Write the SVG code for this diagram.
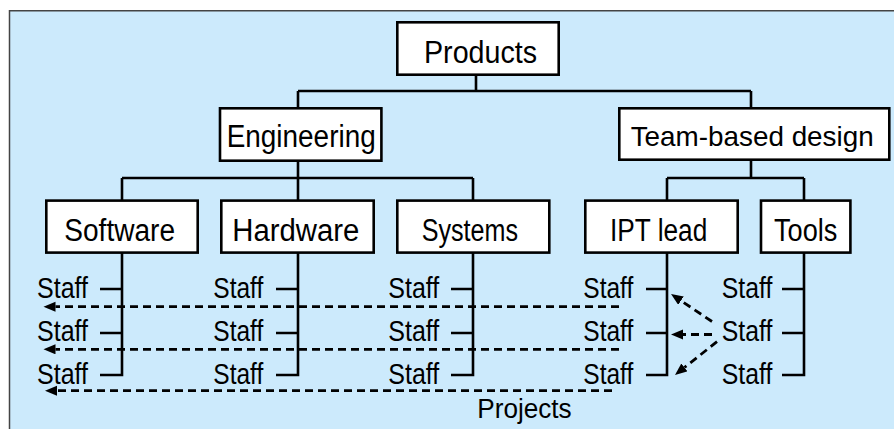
<svg xmlns="http://www.w3.org/2000/svg" width="894" height="429" viewBox="0 0 894 429">
<style>
.box{fill:#fff;stroke:#000;stroke-width:2.6}
.lbl{font-family:"Liberation Sans",Arial,sans-serif;font-size:31px;fill:#000}
.st{font-family:"Liberation Sans",Arial,sans-serif;font-size:29px;fill:#000}
.ln{fill:none;stroke:#000;stroke-width:2.6}
.da{fill:none;stroke:#000;stroke-width:2.8;stroke-dasharray:8 5}
</style>
<defs>
<marker id="ah" markerUnits="userSpaceOnUse" markerWidth="13" markerHeight="11" refX="0" refY="5" orient="auto">
<path d="M0,0 L12,5 L0,10 z" fill="#000"/>
</marker>
</defs>
<rect x="9.5" y="10.75" width="900" height="430" fill="#cceafc" stroke="#444" stroke-width="1.5"/>
<g id="connectors">
<path class="ln" d="M476,76 V91 M298,91 H751 M298,91 V108 M751,91 V108"/>
<path class="ln" d="M298,162 V178 M122,178 H473 M122,178 V200 M298,178 V200 M473,178 V200"/>
<path class="ln" d="M751,161 V178 M667,178 H804 M667,178 V200 M804,178 V200"/>
<path class="ln" d="M122,253 V375 H100 M100,289 H122 M100,333 H122"/>
<path class="ln" d="M298,253 V375 H276 M276,289 H298 M276,333 H298"/>
<path class="ln" d="M473,253 V375 H451 M451,289 H473 M451,333 H473"/>
<path class="ln" d="M667,253 V375 H646 M646,289 H667 M646,333 H667"/>
<path class="ln" d="M804,253 V375 H782 M782,289 H804 M782,333 H804"/>
<path class="da" d="M619,306.7 H55.5" marker-end="url(#ah)"/>
<path class="da" d="M619,349.3 H55.5" marker-end="url(#ah)"/>
<path class="da" d="M612,390.7 H57" marker-end="url(#ah)"/>
<path class="da" d="M712,321.5 L681,300.7" marker-end="url(#ah)"/>
<path class="da" d="M712,334.5 H683" marker-end="url(#ah)"/>
<path class="da" d="M717,341.7 L684.4,367.5" marker-end="url(#ah)"/>
</g>
<g id="products"><rect class="box" x="397.3" y="22.3" width="161.4" height="52.4"/><text class="lbl" x="424" y="63" textLength="113" lengthAdjust="spacingAndGlyphs">Products</text></g>
<g id="engineering"><rect class="box" x="220" y="108.3" width="161.4" height="52.4"/><text class="lbl" x="226.7" y="147" textLength="149" lengthAdjust="spacingAndGlyphs">Engineering</text></g>
<g id="team"><rect class="box" x="619.3" y="108.3" width="270" height="51.4"/><text class="lbl" style="font-size:28px" x="630.7" y="146" textLength="243" lengthAdjust="spacingAndGlyphs">Team-based design</text></g>
<g id="software"><rect class="box" x="46.3" y="200.6" width="151.4" height="52"/><text class="lbl" x="64.3" y="241" textLength="110.7" lengthAdjust="spacingAndGlyphs">Software</text></g>
<g id="hardware"><rect class="box" x="221.3" y="200.6" width="152.4" height="52"/><text class="lbl" x="232.3" y="241" textLength="127" lengthAdjust="spacingAndGlyphs">Hardware</text></g>
<g id="systems"><rect class="box" x="397.3" y="200.6" width="152" height="52"/><text class="lbl" x="421.7" y="241" textLength="96.3" lengthAdjust="spacingAndGlyphs">Systems</text></g>
<g id="iptlead"><rect class="box" x="585.3" y="200.6" width="152.4" height="52"/><text class="lbl" x="610" y="241" textLength="97.3" lengthAdjust="spacingAndGlyphs">IPT lead</text></g>
<g id="tools"><rect class="box" x="761" y="200.6" width="89.4" height="52"/><text class="lbl" x="774" y="241" textLength="63.3" lengthAdjust="spacingAndGlyphs">Tools</text></g>
<g id="staff-software">
<text class="st" x="37" y="298" textLength="51" lengthAdjust="spacingAndGlyphs">Staff</text>
<text class="st" x="37" y="341" textLength="51" lengthAdjust="spacingAndGlyphs">Staff</text>
<text class="st" x="37" y="384" textLength="51" lengthAdjust="spacingAndGlyphs">Staff</text>
</g>
<g id="staff-hardware">
<text class="st" x="213.3" y="298" textLength="50" lengthAdjust="spacingAndGlyphs">Staff</text>
<text class="st" x="213.3" y="341" textLength="50" lengthAdjust="spacingAndGlyphs">Staff</text>
<text class="st" x="213.3" y="384" textLength="50" lengthAdjust="spacingAndGlyphs">Staff</text>
</g>
<g id="staff-systems">
<text class="st" x="388.3" y="298" textLength="51" lengthAdjust="spacingAndGlyphs">Staff</text>
<text class="st" x="388.3" y="341" textLength="51" lengthAdjust="spacingAndGlyphs">Staff</text>
<text class="st" x="388.3" y="384" textLength="51" lengthAdjust="spacingAndGlyphs">Staff</text>
</g>
<g id="staff-ipt">
<text class="st" x="583.3" y="298" textLength="50" lengthAdjust="spacingAndGlyphs">Staff</text>
<text class="st" x="583.3" y="341" textLength="50" lengthAdjust="spacingAndGlyphs">Staff</text>
<text class="st" x="583.3" y="384" textLength="50" lengthAdjust="spacingAndGlyphs">Staff</text>
</g>
<g id="staff-tools">
<text class="st" x="721.7" y="298" textLength="50.6" lengthAdjust="spacingAndGlyphs">Staff</text>
<text class="st" x="721.7" y="341" textLength="50.6" lengthAdjust="spacingAndGlyphs">Staff</text>
<text class="st" x="721.7" y="384" textLength="50.6" lengthAdjust="spacingAndGlyphs">Staff</text>
</g>
<g id="projects"><text class="st" style="font-size:27px" x="477.3" y="418" textLength="94.4" lengthAdjust="spacingAndGlyphs">Projects</text></g>
</svg>
